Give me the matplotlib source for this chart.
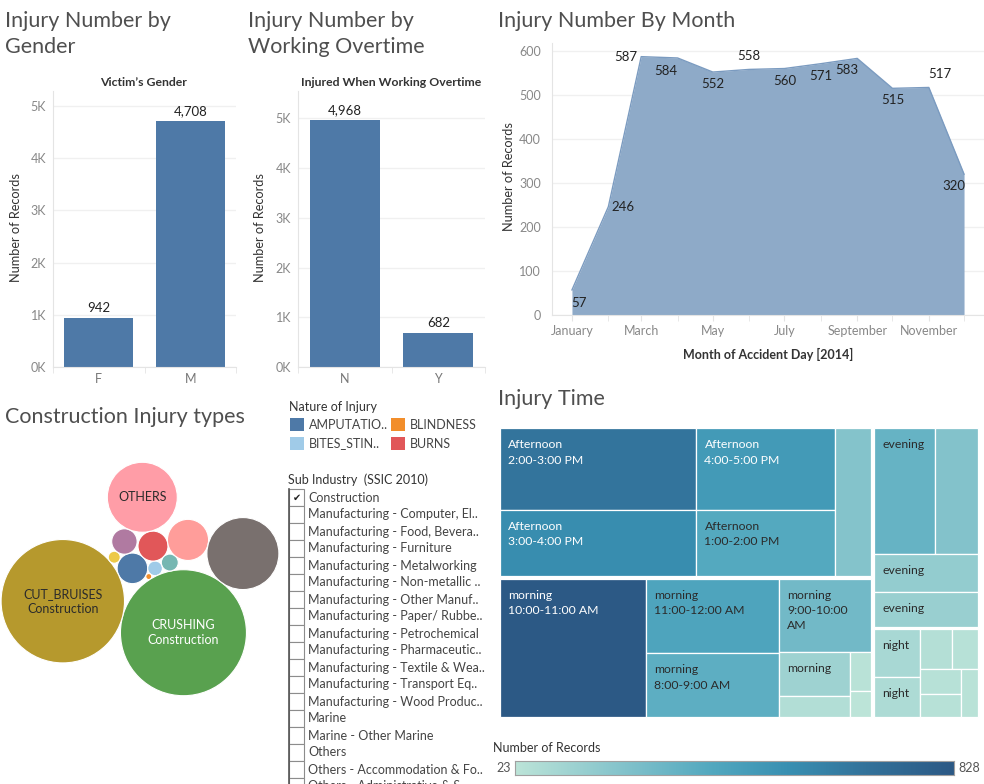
import numpy as np
import pandas as pd
import matplotlib
matplotlib.use("Agg")
import matplotlib.pyplot as plt
import matplotlib.dates as mdates
from matplotlib.patches import Rectangle, Circle
from matplotlib.colors import LinearSegmentedColormap, Normalize

plt.rcParams['font.family'] = ['Lato', 'DejaVu Sans']

# ---- data ----
gender = ['F', 'M']
gender_counts = [942, 4708]

overtime = ['N', 'Y']
overtime_counts = [4968, 682]

months = pd.date_range('2014-01-01', periods=12, freq='MS')
month_counts = [57, 246, 587, 584, 552, 558, 560, 571, 583, 515, 517, 320]

# construction injuries by nature, in packing order
nature = ['AMPUTATION', 'BITES_STINGS', 'BLINDNESS', 'BURNS', 'CRUSHING',
          'CUT_BRUISES', 'CHEMICAL_POISONING', 'DISLOCATION', 'ELECTROCUTION',
          'SPRAINS_STRAINS', 'FRACTURES', 'OTHERS']
nature_counts = [26, 6, 1, 25, 441, 423, 4, 18, 8, 47, 144, 136]
nature_colors = ['#4e79a7', '#a0cbe8', '#f28e2b', '#e15759', '#59a14f',
                 '#b6992d', '#edc948', '#b07aa1', '#76b7b2', '#ff9d9a',
                 '#79706e', '#ff9da7']
bubble_labels = ['', '', '', '', 'CRUSHING\nConstruction',
                 'CUT_BRUISES\nConstruction', '', '', '', '', '', 'OTHERS']

legend_names = ['AMPUTATIO..', 'BLINDNESS', 'BITES_STIN..', 'BURNS']
legend_colors = ['#4e79a7', '#f28e2b', '#a0cbe8', '#e15759']

sub_industry = ['Construction', 'Manufacturing - Computer, El..',
                'Manufacturing - Food, Bevera..', 'Manufacturing - Furniture',
                'Manufacturing - Metalworking', 'Manufacturing - Non-metallic ..',
                'Manufacturing - Other Manuf..', 'Manufacturing - Paper/ Rubbe..',
                'Manufacturing - Petrochemical', 'Manufacturing - Pharmaceutic..',
                'Manufacturing - Textile & Wea..', 'Manufacturing - Transport Eq..',
                'Manufacturing - Wood Produc..', 'Marine', 'Marine - Other Marine',
                'Others', 'Others - Accommodation & Fo..',
                'Others - Administrative & S..']
sub_checked = ['Construction']

tm_part = ['Afternoon'] * 5 + ['morning'] * 8 + ['evening'] * 4 + ['night'] * 7
tm_time = ['2:00-3:00 PM', '3:00-4:00 PM', '4:00-5:00 PM', '1:00-2:00 PM', '12:00-1:00 PM',
           '10:00-11:00 AM', '11:00-12:00 AM', '8:00-9:00 AM', '9:00-10:00 AM',
           '7:00-8:00 AM', '6:00-7:00 AM', '5:00-6:00 AM', '4:00-5:00 AM',
           '5:00-6:00 PM', '6:00-7:00 PM', '7:00-8:00 PM', '8:00-9:00 PM',
           '9:00-10:00 PM', '10:00-11:00 PM', '11:00-12:00 PM', '12:00-1:00 AM',
           '1:00-2:00 AM', '3:00-4:00 AM', '2:00-3:00 AM']
tm_count = [657, 537, 465, 380, 220,
            828, 407, 347, 280, 127, 60, 35, 23,
            321, 223, 165, 148,
            93, 76, 54, 44, 44, 39, 34]

# ---- layout helpers (pixel coordinates, y down) ----
W, H = 984, 784
fig = plt.figure(figsize=(W / 100, H / 100), dpi=100)
fig.patch.set_facecolor('white')

ov = fig.add_axes([0, 0, 1, 1])
ov.set_xlim(0, W)
ov.set_ylim(H, 0)
ov.axis('off')

def add_px_axes(x0, y0, x1, y1):
    return fig.add_axes([x0 / W, 1 - y1 / H, (x1 - x0) / W, (y1 - y0) / H])

DARK = '#333333'
TICK = '#888888'
GRID = '#f0f0f0'
AXLINE = '#e4e4e4'
SMALL = 9
TITLE_KW = dict(fontsize=15.5, color='#4f4f4f', va='center')

# ---- titles ----
ov.text(5, 21, 'Injury Number by', **TITLE_KW)
ov.text(5, 47, 'Gender', **TITLE_KW)
ov.text(248, 21, 'Injury Number by', **TITLE_KW)
ov.text(248, 47, 'Working Overtime', **TITLE_KW)
ov.text(498, 21, 'Injury Number By Month', **TITLE_KW)
ov.text(5, 417, 'Construction Injury types', **TITLE_KW)
ov.text(498, 399, 'Injury Time', **TITLE_KW)


# ---- bar panels ----
def bar_panel(rect, cats, vals, ytop, subtitle, sub_x, ylab_x):
    ax = add_px_axes(*rect)
    x = np.arange(len(cats))
    ax.bar(x, vals, width=0.75, color='#4e79a7', zorder=2)
    ax.set_xlim(-0.5, len(cats) - 0.5)
    ax.set_ylim(0, ytop)
    ticks = np.arange(0, 5001, 1000)
    ax.set_yticks(ticks)
    ax.set_yticklabels([f'{t // 1000}K' for t in ticks])
    ax.grid(axis='y', color=GRID, lw=1, zorder=0)
    for s in ['top', 'right']:
        ax.spines[s].set_visible(False)
    for s in ['left', 'bottom']:
        ax.spines[s].set_color(AXLINE)
    ax.tick_params(axis='y', length=0, labelsize=SMALL, labelcolor=TICK, pad=5)
    ax.set_xticks(x)
    ax.set_xticklabels(cats)
    ax.set_xticks(np.arange(len(cats) + 1) - 0.5, minor=True)
    ax.tick_params(axis='x', which='major', length=0, labelsize=SMALL, labelcolor='#777', pad=4)
    ax.tick_params(axis='x', which='minor', length=4, color=AXLINE)
    for xi, v in zip(x, vals):
        ax.annotate(f'{v:,}', (xi, v), xytext=(0, 4), textcoords='offset pixels',
                    ha='center', va='bottom', fontsize=9.5, color='#222')
    ov.text(sub_x, 82, subtitle, ha='center', va='center', fontsize=8.8,
            fontweight='bold', color=DARK)
    ov.text(ylab_x, 228, 'Number of Records', rotation=90, ha='center', va='center',
            fontsize=9.2, color=DARK)
    return ax

bar_panel((53, 91, 236, 367), gender, gender_counts, 5287, 'Victim\u2019s Gender', 144, 16)
bar_panel((298, 91, 485, 367), overtime, overtime_counts, 5553,
          'Injured When Working Overtime', 391, 260)

# ---- area chart ----
ax = add_px_axes(552, 43, 984, 315)
mx = mdates.date2num(months.to_pydatetime())
ax.fill_between(mx, month_counts, color='#8eaac8', lw=0, zorder=2)
ax.plot(mx, month_counts, color='#7b9bc0', lw=1, zorder=3)
ax.set_xlim(mx[0] - 17, mx[0] + 351)
ax.set_ylim(0, 618)
ax.set_yticks(range(0, 601, 100))
ax.grid(axis='y', color=GRID, lw=1, zorder=0)
ax.set_xticks(mx[::2])
ax.set_xticks(mx[1::2], minor=True)
ax.xaxis.set_major_formatter(mdates.DateFormatter('%B'))
for s in ['top', 'right']:
    ax.spines[s].set_visible(False)
for s in ['left', 'bottom']:
    ax.spines[s].set_color(AXLINE)
ax.tick_params(axis='y', length=0, labelsize=SMALL, labelcolor=TICK, pad=8)
ax.tick_params(axis='x', which='both', length=4, color=AXLINE, labelsize=SMALL,
               labelcolor=TICK, pad=3)
label_offsets = [(7, -13), (15, 0), (-15, 0), (-12, -13), (0, -12), (0, 13),
                 (0, -12), (0, -12), (-10, -12), (0, -12), (11, 13), (-10, -12)]
for xi, v, (dx, dy) in zip(mx, month_counts, label_offsets):
    ax.annotate(str(v), (xi, v), xytext=(dx, dy), textcoords='offset pixels',
                ha='center', va='center', fontsize=9.5, color='#222', zorder=4)
ov.text(509, 177, 'Number of Records', rotation=90, ha='center', va='center',
        fontsize=9.2, color=DARK)
ov.text(768, 354, 'Month of Accident Day [2014]', ha='center', va='center',
        fontsize=9, fontweight='bold', color=DARK)

# ---- packed bubbles ----
bubble_scale = 3.0
radii = [bubble_scale * np.sqrt(c) for c in nature_counts]
# each bubble rests against two bubbles placed before it (side: +1 left, -1 right)
pack_rules = [None, (0, 0.0), (0, 1, -1), (0, 1, 1), (1, 2, 1), (0, 4, -1),
              (5, 0, 1), (6, 0, 1), (1, 4, 1), (3, 8, 1), (4, 9, -1), (3, 7, -1)]

def touch_two(c1, r1, c2, r2, r, side):
    d1, d2 = r1 + r, r2 + r
    dx, dy = c2[0] - c1[0], c2[1] - c1[1]
    d = np.hypot(dx, dy)
    a = (d1 ** 2 - d2 ** 2 + d ** 2) / (2 * d)
    h = np.sqrt(max(d1 ** 2 - a ** 2, 0))
    ux, uy = dx / d, dy / d
    return (c1[0] + a * ux - side * h * uy, c1[1] + a * uy + side * h * ux)

centers = []
for i, rule in enumerate(pack_rules):
    if rule is None:
        centers.append((0.0, 0.0))
    elif len(rule) == 2:
        j, ang = rule
        d = radii[j] + radii[i]
        centers.append((centers[j][0] + d * np.cos(np.radians(ang)),
                        centers[j][1] + d * np.sin(np.radians(ang))))
    else:
        j, k, side = rule
        centers.append(touch_two(centers[j], radii[j], centers[k], radii[k], radii[i], side))
centers = np.array(centers)
r_arr = np.array(radii)
bx0, bx1 = (centers[:, 0] - r_arr).min(), (centers[:, 0] + r_arr).max()
by0, by1 = (centers[:, 1] - r_arr).min(), (centers[:, 1] + r_arr).max()
bcx, bcy = (bx0 + bx1) / 2, (by0 + by1) / 2

bax = add_px_axes(0, 439, 280, 719)
bax.set_xlim(bcx - 140, bcx + 140)
bax.set_ylim(bcy - 140, bcy + 140)
bax.set_aspect('equal')
bax.axis('off')
for (cx, cy), r, col, lab in zip(centers, radii, nature_colors, bubble_labels):
    bax.add_patch(Circle((cx, cy), r, facecolor=col, edgecolor='white', lw=0.8))
    if lab:
        tc = 'white' if col == '#59a14f' else '#2b2b2b'
        bax.text(cx, cy, lab, ha='center', va='center', fontsize=9, color=tc,
                 linespacing=1.3)

# ---- nature legend ----
ov.text(289, 407, 'Nature of Injury', va='center', fontsize=SMALL, color=DARK)
for i, (name, col) in enumerate(zip(legend_names, legend_colors)):
    cx0 = 290 + (i % 2) * 101
    cy0 = 418 + (i // 2) * 19
    ov.add_patch(Rectangle((cx0, cy0), 14, 13, facecolor=col, edgecolor='none'))
    ov.text(cx0 + 19, cy0 + 10.5, name, va='baseline', fontsize=SMALL, color='#444')

# ---- sub industry filter ----
ov.text(288, 484, 'Sub Industry  (SSIC 2010)', va='baseline', fontsize=SMALL, color=DARK)
for i, name in enumerate(sub_industry):
    yc = 497.5 + i * 17
    ov.add_patch(Rectangle((289, yc - 8.5), 15, 17, facecolor='white',
                           edgecolor='#8c8c8c', lw=0.8))
    if name in sub_checked:
        ov.text(296.5, yc, '\u2714', ha='center', va='center', fontsize=7,
                color='#222', family='DejaVu Sans')
    ov.text(308, yc + 4, name, va='baseline', fontsize=SMALL, color='#444')
ov.plot([289, 289], [489, H], color='#555', lw=1.2)

# ---- treemap ----
def strip_layout(vals, rect, strips):
    x, y, w, h = rect
    out = []
    i = 0
    for n in strips:
        chunk = vals[i:i + n]
        s = sum(chunk)
        frac = s / sum(vals[i:])
        if h <= w:
            cw = w * frac
            yy = y
            for v in chunk:
                ch = h * v / s
                out.append((x, yy, cw, ch))
                yy += ch
            x += cw
            w -= cw
        else:
            rh = h * frac
            xx = x
            for v in chunk:
                cw2 = w * v / s
                out.append((xx, y, cw2, rh))
                xx += cw2
            y += rh
            h -= rh
        i += n
    return out

tm = pd.DataFrame({'part': tm_part, 'time': tm_time, 'count': tm_count})
group_tot = tm.groupby('part', sort=False)['count'].sum().sort_values(ascending=False)
group_strips = [2, 1, 1]
cell_strips = {'Afternoon': [2, 2, 1], 'morning': [1, 2, 1, 2, 1, 1],
               'evening': [2, 2], 'night': [2, 2, 2, 1]}
group_rects = strip_layout(list(group_tot.values), (499, 427, 480, 291), group_strips)

tm_cmap = LinearSegmentedColormap.from_list(
    'blue_teal', [(0, '#bce4d8'), (0.25, '#82c2cb'), (0.45, '#52a8bf'),
                  (0.62, '#3990b2'), (0.8, '#33729a'), (1, '#2c5985')])
norm = Normalize(min(tm_count), max(tm_count))

renderer = fig.canvas.get_renderer()
TM_FS = 8.8

def text_w(s):
    t = ov.text(0, 0, s, fontsize=TM_FS)
    w = t.get_window_extent(renderer).width
    t.remove()
    return w

gap = 1.3
for gname, (gx, gy, gw, gh) in zip(group_tot.index, group_rects):
    sub = tm[tm['part'] == gname].sort_values('count', ascending=False)
    rects = strip_layout(list(sub['count']), (gx + gap, gy + gap, gw - 2 * gap, gh - 2 * gap),
                         cell_strips[gname])
    for (x, y, w, h), (_, row) in zip(rects, sub.iterrows()):
        col = tm_cmap(norm(row['count']))
        ov.add_patch(Rectangle((x, y), w, h, facecolor=col, edgecolor='white', lw=0.9))
        lines = []
        if text_w(row['part']) + 14 <= w and h >= 29:
            lines.append(row['part'])
            t = row['time']
            if text_w(t) + 14 <= w and h >= 44:
                lines.append(t)
            else:
                a, _, b = t.rpartition(' ')
                if max(text_w(a), text_w(b)) + 14 <= w and h >= 59:
                    lines += [a, b]
        tc = 'white' if row['count'] > 430 else '#2b2b2b'
        for k, ln in enumerate(lines):
            ov.text(x + 8, y + 20 + k * 15.3, ln, va='baseline', fontsize=TM_FS, color=tc)

# ---- colour legend ----
ov.text(493, 748, 'Number of Records', va='center', fontsize=SMALL, color=DARK)
cax = add_px_axes(515, 761, 954, 775)
cax.imshow(np.linspace(0, 1, 256)[None, :], aspect='auto', cmap=tm_cmap)
cax.set_xticks([])
cax.set_yticks([])
for s in cax.spines.values():
    s.set_color('#a0a0a0')
    s.set_linewidth(0.8)
ov.text(511, 768, str(min(tm_count)), ha='right', va='center', fontsize=SMALL, color='#555')
ov.text(958, 768, str(max(tm_count)), ha='left', va='center', fontsize=SMALL, color='#555')

fig.savefig('out.png', dpi=100)
